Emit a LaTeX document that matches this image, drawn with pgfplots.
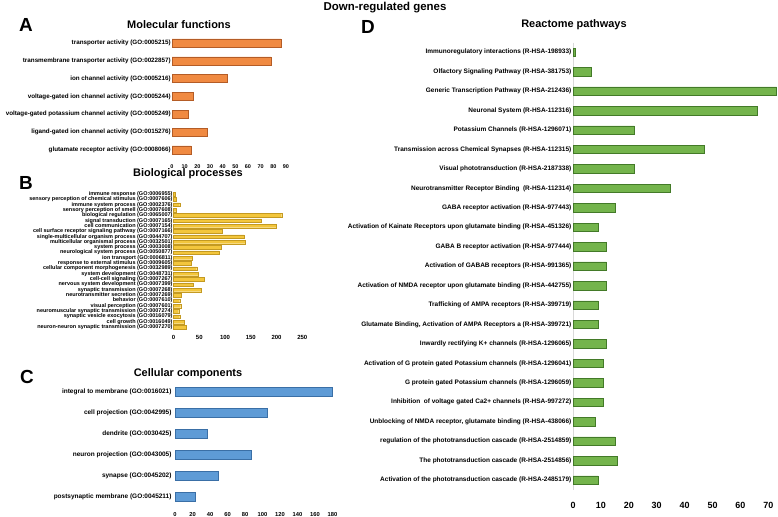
\documentclass[border=0pt]{standalone}
\usepackage{pgfplots}
\pgfplotsset{compat=1.18}
\usepackage{fontspec}
\setmainfont{Liberation Sans}
\definecolor{orA}{HTML}{F08A42}
\definecolor{orAd}{HTML}{B45C26}
\definecolor{goB}{HTML}{F3C63C}
\definecolor{goBd}{HTML}{C49A22}
\definecolor{blC}{HTML}{5E9BD6}
\definecolor{blCd}{HTML}{3A6FA6}
\definecolor{grD}{HTML}{74B44C}
\definecolor{grDd}{HTML}{437A28}
\pgfplotsset{
  panel/.style={
    scale only axis,
    anchor=north west,
    xbar, y dir=reverse,
    axis line style={draw=none},
    major tick length=0pt,
    tick style={draw=none},
    enlargelimits=false,
    ymin=-0.5, xmin=0,
    clip=false,
    /pgf/number format/assume math mode=true,
  }
}
\begin{document}
\begin{tikzpicture}[x=1bp,y=1bp]
\useasboundingbox (0,0) rectangle (778,517);
\node[font=\bfseries\fontsize{11.5}{13}\selectfont] at (385,509) {Down-regulated genes};
\node[font=\bfseries\fontsize{19}{20}\selectfont] at (26,492) {A};
\node[font=\bfseries\fontsize{19}{20}\selectfont] at (26,334) {B};
\node[font=\bfseries\fontsize{19}{20}\selectfont] at (27,140) {C};
\node[font=\bfseries\fontsize{19}{20}\selectfont] at (368,490) {D};
\node[font=\bfseries\fontsize{11}{12}\selectfont] at (179,492.7) {Molecular functions};
\node[font=\bfseries\fontsize{11}{12}\selectfont] at (188,343) {Biological processes};
\node[font=\bfseries\fontsize{11}{12}\selectfont] at (188,143) {Cellular components};
\node[font=\bfseries\fontsize{11}{12}\selectfont] at (574,492) {Reactome pathways};

% Panel A
\begin{axis}[panel, at={(172bp,482.9bp)}, width=114bp, height=124.8bp,
  xmax=90, ymax=6.5, xtick={0,10,...,90},
  ytick={0,...,6},
  yticklabels={transporter activity (GO:0005215),
    transmembrane transporter activity (GO:0022857),
    ion channel activity (GO:0005216),
    voltage-gated ion channel activity (GO:0005244),
    voltage-gated potassium channel activity (GO:0005249),
    ligand-gated ion channel activity (GO:0015276),
    glutamate receptor activity (GO:0008066)},
  yticklabel style={font=\bfseries\fontsize{6.3}{7}\selectfont, inner sep=1bp},
  xticklabel style={font=\bfseries\fontsize{5.5}{6}\selectfont, yshift=-2bp}]
\addplot[fill=orA, draw=orAd, line width=0.6bp, bar width=8bp] table[x=v, y expr=\coordindex] {
v
86
78
44
17
13
28
15
};
\end{axis}

% Panel B
\begin{axis}[panel, at={(173.5bp,325.7bp)}, width=128.8bp, height=138.6bp,
  xmax=250, ymax=25.5, xtick={0,50,...,250},
  ytick={0,...,25},
  yticklabels={immune response (GO:0006955),
    sensory perception of chemical stimulus (GO:0007606),
    immune system process (GO:0002376),
    sensory perception of smell (GO:0007608),
    biological regulation (GO:0065007),
    signal transduction (GO:0007165),
    cell communication (GO:0007154),
    cell surface receptor signaling pathway (GO:0007166),
    single-multicellular organism process (GO:0044707),
    multicellular organismal process (GO:0032501),
    system process (GO:0003008),
    neurological system process (GO:0050877),
    ion transport (GO:0006811),
    response to external stimulus (GO:0009605),
    cellular component morphogenesis (GO:0032989),
    system development (GO:0048731),
    cell-cell signaling (GO:0007267),
    nervous system development (GO:0007399),
    synaptic transmission (GO:0007268),
    neurotransmitter secretion (GO:0007269),
    behavior (GO:0007610),
    visual perception (GO:0007601),
    neuromuscular synaptic transmission (GO:0007274),
    synaptic vesicle exocytosis (GO:0016079),
    cell growth (GO:0016049),
    neuron-neuron synaptic transmission (GO:0007270)},
  yticklabel style={font=\bfseries\fontsize{5.5}{5.5}\selectfont, inner sep=0.8bp},
  xticklabel style={font=\bfseries\fontsize{6}{7}\selectfont, yshift=-2bp}]
\addplot[fill=goB, draw=goBd, line width=0.3bp, bar width=3.6bp] table[x=v, y expr=\coordindex] {
v
4
6
12
6
210
171
200
95
137
140
92
88
37
35
45
48
60
38
54
15
12
14
10
12
20
24
};
\end{axis}

% Panel C
\begin{axis}[panel, at={(175bp,135.8bp)}, width=157.5bp, height=126.3bp,
  xmax=180, ymax=5.5, xtick={0,20,...,180},
  ytick={0,...,5},
  yticklabels={integral to membrane (GO:0016021),
    cell projection (GO:0042995),
    dendrite (GO:0030425),
    neuron projection (GO:0043005),
    synapse (GO:0045202),
    postsynaptic membrane (GO:0045211)},
  yticklabel style={font=\bfseries\fontsize{6.5}{7}\selectfont},
  xticklabel style={font=\bfseries\fontsize{5.8}{6}\selectfont, yshift=-1bp}]
\addplot[fill=blC, draw=blCd, line width=0.6bp, bar width=9bp] table[x=v, y expr=\coordindex] {
v
180
106
37
87
50
23
};
\end{axis}

% Panel D
\begin{axis}[panel, at={(573bp,474.4bp)}, width=205.1bp, height=447.2bp,
  xmax=73.5, ymax=22.5, xtick={0,10,...,70},
  axis x line=bottom, axis y line=left,
  x axis line style={draw=none},
  y axis line style={-, draw=black!15, line width=0.8bp},
  ytick={0,...,22},
  yticklabels={Immunoregulatory interactions (R-HSA-198933),
    Olfactory Signaling Pathway (R-HSA-381753),
    Generic Transcription Pathway (R-HSA-212436),
    Neuronal System (R-HSA-112316),
    Potassium Channels (R-HSA-1296071),
    Transmission across Chemical Synapses (R-HSA-112315),
    Visual phototransduction (R-HSA-2187338),
    Neurotransmitter Receptor Binding \ (R-HSA-112314),
    GABA receptor activation (R-HSA-977443),
    Activation of Kainate Receptors upon glutamate binding (R-HSA-451326),
    GABA B receptor activation (R-HSA-977444),
    Activation of GABAB receptors (R-HSA-991365),
    Activation of NMDA receptor upon glutamate binding (R-HSA-442755),
    Trafficking of AMPA receptors (R-HSA-399719),
    {Glutamate Binding, Activation of AMPA Receptors a (R-HSA-399721)},
    Inwardly rectifying K+ channels (R-HSA-1296065),
    Activation of G protein gated Potassium channels (R-HSA-1296041),
    G protein gated Potassium channels (R-HSA-1296059),
    Inhibition \ of voltage gated Ca2+ channels (R-HSA-997272),
    {Unblocking of NMDA receptor, glutamate binding (R-HSA-438066)},
    regulation of the phototransduction cascade (R-HSA-2514859),
    The phototransduction cascade (R-HSA-2514856),
    Activation of the phototransduction cascade (R-HSA-2485179)},
  yticklabel style={font=\bfseries\fontsize{6.5}{7}\selectfont, inner sep=1.5bp},
  xticklabel style={font=\bfseries\fontsize{9}{10}\selectfont, yshift=-9bp}]
\addplot[fill=grD, draw=grDd, line width=0.6bp, bar width=8.5bp] table[x=v, y expr=\coordindex] {
v
0.7
6.7
73
66
22
47
22
35
15
9
12
12
12
9
9
12
11
11
11
8
15
16
9
};
\end{axis}
\end{tikzpicture}
\end{document}
